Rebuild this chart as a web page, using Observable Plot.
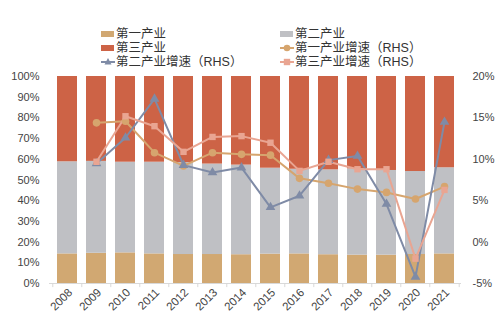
<!DOCTYPE html>
<html><head><meta charset="utf-8">
<script src="https://cdn.jsdelivr.net/npm/d3@7"></script>
<script src="https://cdn.jsdelivr.net/npm/@observablehq/plot@0.6"></script>
<style>
body{margin:0;background:#fff;}
#wrap{width:500px;height:331px;position:relative;overflow:hidden;background:#fff;}
#legend{position:relative;width:500px;height:68px;font-family:"Liberation Sans","Noto Sans CJK SC",sans-serif;font-size:12.5px;color:#333;}
.item{position:absolute;height:14px;line-height:14px;white-space:nowrap;}
.item svg{position:absolute;left:0;top:0;}
.item span{position:absolute;display:block;left:15px;top:0;height:14px;line-height:14px;}
</style></head><body>
<div id="wrap"><div id="legend"></div><div id="chart"></div></div>
<script>
// ---- data ----
const years = ["2008","2009","2010","2011","2012","2013","2014","2015","2016","2017","2018","2019","2020","2021"];
const sectors = ["第一产业","第二产业","第三产业"];
const primaryShare   = [14.3,14.6,14.8,14.3,14.0,14.0,13.9,14.2,14.3,13.9,13.7,13.7,14.0,14.3];
const secondaryShare = [44.5,44.4,43.8,44.3,44.4,43.7,43.3,41.5,40.9,41.0,41.7,40.9,40.1,41.6];
const tertiaryShare  = [41.2,41.0,41.4,41.4,41.6,42.3,42.8,44.3,44.8,45.1,44.6,45.4,45.9,44.1];
const growthNames = ["第一产业增速（RHS）","第二产业增速（RHS）","第三产业增速（RHS）"];
const primaryGrowth   = [null,14.4,14.6,10.8,9.2,10.8,10.6,10.5,7.7,7.1,6.4,6.0,5.2,6.7];
const secondaryGrowth = [null,9.5,12.6,17.3,9.3,8.4,9.0,4.2,5.6,9.9,10.4,4.6,-4.2,14.5];
const tertiaryGrowth  = [null,9.7,15.2,14.0,10.9,12.7,12.8,12.0,8.6,9.7,8.8,8.8,-2.0,6.3];
const leftTicks = [0,10,20,30,40,50,60,70,80,90,100];
const rightTicks = [-5,0,5,10,15,20];

// ---- styles ----
const barColors = ["#D1A872","#BFC0C4","#CD6346"];
const lineColors = ["#D6A56E","#7F8BA6","#E9A592"];
const symbols = ["circle","triangle","square"];

// RHS mapping onto left 0..100 scale
const rhs = v => (v + 5) * 4;

const bars = [];
[primaryShare, secondaryShare, tertiaryShare].forEach((arr, si) => {
  arr.forEach((v, i) => bars.push({year: years[i], sector: sectors[si], value: v}));
});
const growthSeries = [primaryGrowth, secondaryGrowth, tertiaryGrowth].map((arr, si) =>
  arr.map((v, i) => ({year: years[i], name: growthNames[si], v})).filter(d => d.v != null));

const bw = 412 / 14 / 2;
const marks = [
  Plot.barY(bars, {x: "year", y: "value", fill: "sector", order: sectors}),
  Plot.ruleY([0], {stroke: "#D9D9D9"}),
  Plot.ruleX(years, {x: d => d, y1: 0, y2: -2, dx: -bw, stroke: "#D9D9D9"}),
  Plot.ruleX(years.slice(-1), {x: d => d, y1: 0, y2: -2, dx: bw, stroke: "#D9D9D9"}),
];
growthSeries.forEach((s, si) => {
  marks.push(Plot.line(s, {x: "year", y: d => rhs(d.v), stroke: lineColors[si], strokeWidth: 2}));
});
growthSeries.forEach((s, si) => {
  marks.push(Plot.dot(s, {x: "year", y: d => rhs(d.v), fill: lineColors[si], stroke: "none", symbol: symbols[si], r: si === 0 ? 3.8 : 3.6}));
});
marks.push(
  Plot.axisY(leftTicks, {anchor: "left", tickSize: 0, tickPadding: 10, tickFormat: d => d + "%"}),
  Plot.axisY(rightTicks.map(rhs), {anchor: "right", tickSize: 0, tickPadding: 11, tickFormat: d => (d / 4 - 5) + "%"}),
  Plot.axisX({tickSize: 0, tickRotate: -45, tickPadding: 7, dx: 3, fontSize: 11.5})
);

const chart = Plot.plot({
  width: 500, height: 263,
  marginLeft: 49, marginRight: 39, marginTop: 8, marginBottom: 48,
  style: {fontFamily: "Liberation Sans, Arial, sans-serif", fontSize: "11px", color: "#444", background: "#fff"},
  x: {type: "band", domain: years, paddingInner: 0.32, paddingOuter: 0.16, label: null, axis: null},
  y: {domain: [0, 100], label: null, axis: null},
  color: {domain: sectors, range: barColors},
  marks
});
document.getElementById("chart").appendChild(chart);

// ---- legend ----
const legendItems = [
  {label: sectors[0], kind: "rect", color: barColors[0], x: 101, y: 27},
  {label: sectors[1], kind: "rect", color: barColors[1], x: 280, y: 27},
  {label: sectors[2], kind: "rect", color: barColors[2], x: 101, y: 41},
  {label: growthNames[0], kind: "line", color: lineColors[0], sym: "circle", x: 280, y: 41},
  {label: growthNames[1], kind: "line", color: lineColors[1], sym: "triangle", x: 101, y: 55},
  {label: growthNames[2], kind: "line", color: lineColors[2], sym: "square", x: 280, y: 55},
];
const legend = document.getElementById("legend");
legendItems.forEach(it => {
  const div = document.createElement("div");
  div.className = "item";
  div.style.left = it.x + "px";
  div.style.top = it.y + "px";
  let sw;
  if (it.kind === "rect") {
    sw = `<svg width="14" height="14"><rect x="0" y="4" width="13" height="6" fill="${it.color}"/></svg>`;
  } else {
    let m;
    if (it.sym === "circle") m = `<circle cx="7" cy="7" r="3.3" fill="${it.color}"/>`;
    else if (it.sym === "square") m = `<rect x="3.8" y="3.8" width="6.4" height="6.4" fill="${it.color}"/>`;
    else m = `<path d="M7,3 L10.5,9.5 L3.5,9.5Z" fill="${it.color}"/>`;
    sw = `<svg width="14" height="14"><line x1="0" x2="14" y1="7" y2="7" stroke="${it.color}" stroke-width="2"/>${m}</svg>`;
  }
  div.innerHTML = sw + `<span>${it.label}</span>`;
  legend.appendChild(div);
});
</script>
</body></html>
